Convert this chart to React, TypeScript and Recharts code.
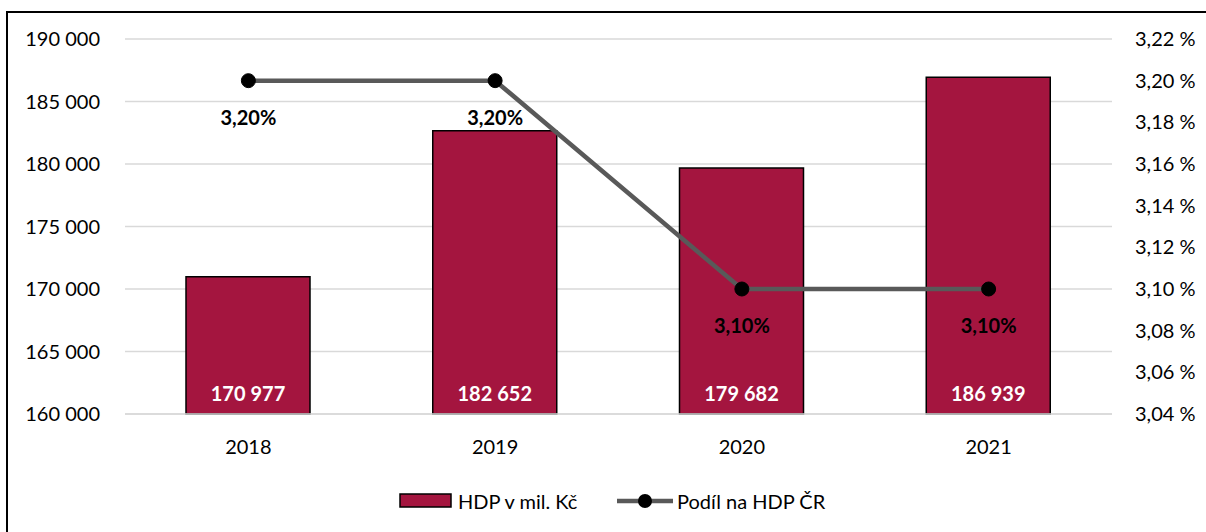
import { ComposedChart, Bar, Line, XAxis, YAxis, CartesianGrid, Legend, LabelList } from 'recharts';

const years = ['2018', '2019', '2020', '2021'];
const hdp = [170977, 182652, 179682, 186939];
const podil = [3.2, 3.2, 3.1, 3.1];
const leftTicks = [160000, 165000, 170000, 175000, 180000, 185000, 190000];
const rightTicks = [3.04, 3.06, 3.08, 3.1, 3.12, 3.14, 3.16, 3.18, 3.2, 3.22];

const data = years.map((year, i) => ({ year, hdp: hdp[i], podil: podil[i] }));

const FONT = 'Lato, "Open Sans", sans-serif';
const BAR = '#A4153F';
const LINE = '#595959';

const fmtThousands = (v: number) => String(v).replace(/\B(?=(\d{3})+(?!\d))/g, ' ');
const fmtPct = (v: number) => v.toFixed(2).replace('.', ',') + ' %';

const BarLabel = (props: any) => {
  const { x, y, width, height, value } = props;
  return (
    <text x={x + width / 2} y={y + height - 21} textAnchor="middle" dominantBaseline="central"
      fill="#fff" fontWeight="bold" fontSize={20} fontFamily={FONT}>
      {fmtThousands(value)}
    </text>
  );
};

const LineLabel = (props: any) => {
  const { x, y, value } = props;
  return (
    <text x={x} y={y + 36} textAnchor="middle" dominantBaseline="central"
      fill="#000" fontWeight="bold" fontSize={20} fontFamily={FONT}>
      {value.toFixed(2).replace('.', ',')}%
    </text>
  );
};

const renderLegend = () => (
  <svg width={1206} height={36} style={{ display: 'block' }}>
    <rect x={400} y={11} width={51} height={13} fill={BAR} stroke="#000" strokeWidth={1.5} />
    <text x={458} y={18} dominantBaseline="central" fontSize={20} fontFamily={FONT} fill="#000">HDP v mil. Kč</text>
    <line x1={617} y1={18} x2={673} y2={18} stroke={LINE} strokeWidth={4.5} />
    <circle cx={645} cy={18} r={7} fill="#000" />
    <text x={677} y={18} dominantBaseline="central" fontSize={20} fontFamily={FONT} fill="#000">Podíl na HDP ČR</text>
  </svg>
);

export default function App() {
  return (
    <div style={{ position: 'absolute', left: 0, top: 0, width: 1206, height: 532, overflow: 'hidden', background: '#fff' }}>
      <div style={{ position: 'absolute', left: 6, top: 11, width: 1300, height: 700, borderTop: '2px solid #000', borderLeft: '2px solid #000' }} />
      <ComposedChart width={1206} height={532} data={data} margin={{ top: 39, right: 0, left: 0, bottom: 42 }}>
        <CartesianGrid yAxisId="left" vertical={false} stroke="#d9d9d9" strokeWidth={1.5} />
        <XAxis dataKey="year" axisLine={{ stroke: '#d9d9d9', strokeWidth: 1.5 }} tickLine={false} tickSize={0} tickMargin={26}
          height={40} tick={{ fill: '#000', fontSize: 20, fontFamily: FONT }} />
        <YAxis yAxisId="left" width={125} domain={[160000, 190000]} ticks={leftTicks} tickFormatter={fmtThousands}
          axisLine={false} tickLine={false} tickSize={0} tickMargin={25} interval={0}
          tick={{ fill: '#000', fontSize: 20, fontFamily: FONT }} />
        <YAxis yAxisId="right" orientation="right" width={94} domain={[3.04, 3.22]} ticks={rightTicks} tickFormatter={fmtPct}
          axisLine={false} tickLine={false} tickSize={0} tickMargin={23} interval={0}
          tick={{ fill: '#000', fontSize: 20, fontFamily: FONT, textAnchor: 'start' }} />
        <Bar yAxisId="left" dataKey="hdp" name="HDP v mil. Kč" fill={BAR} stroke="#000" strokeWidth={1.5} barSize={124} isAnimationActive={false}>
          <LabelList dataKey="hdp" content={BarLabel} />
        </Bar>
        <Line yAxisId="right" dataKey="podil" name="Podíl na HDP ČR" stroke={LINE} strokeWidth={4.5}
          dot={{ r: 7, fill: '#000', stroke: '#000', strokeWidth: 1 }} activeDot={false} isAnimationActive={false}>
          <LabelList dataKey="podil" content={LineLabel} />
        </Line>
        <Legend content={renderLegend} wrapperStyle={{ position: 'absolute', left: 0, top: 483, width: 1206 }} />
      </ComposedChart>
    </div>
  );
}
